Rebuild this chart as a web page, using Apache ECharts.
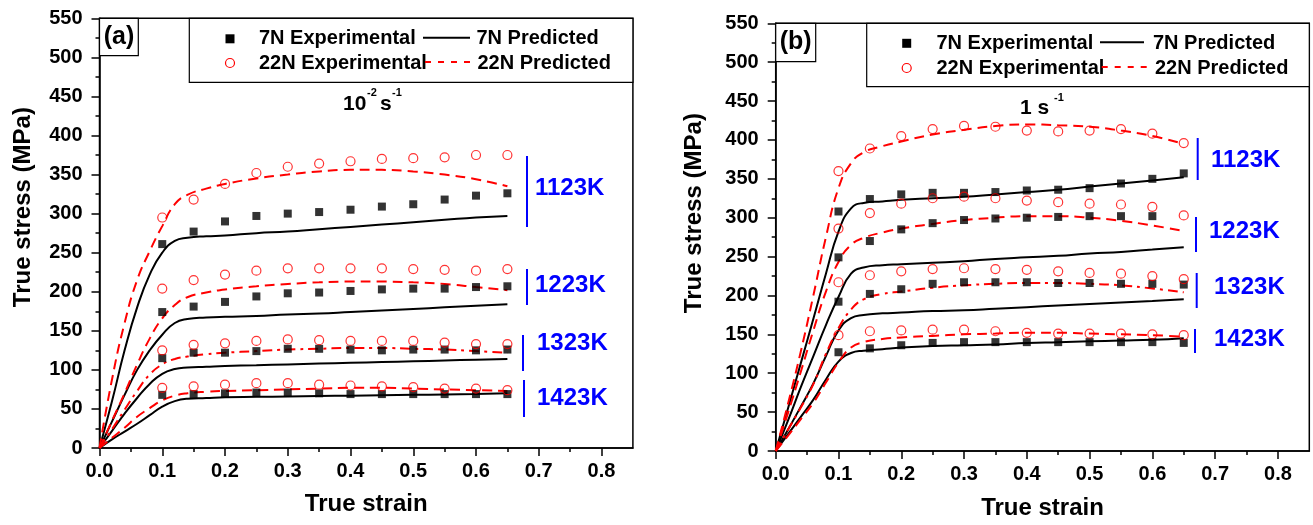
<!DOCTYPE html>
<html><head><meta charset="utf-8">
<script src="https://cdn.jsdelivr.net/npm/echarts@6/dist/echarts.min.js"></script>
<style>html,body{margin:0;padding:0;background:#fff}#c{width:1313px;height:525px}</style>
</head><body><div id="c"></div><script>
const FONT = '"Liberation Sans", Arial, Helvetica, sans-serif';

// ---- axes / ticks ----
const xTickValues = [0, 0.1, 0.2, 0.3, 0.4, 0.5, 0.6, 0.7, 0.8];
const xMinorTickValues = [0.05, 0.15, 0.25, 0.35, 0.45, 0.55, 0.65, 0.75];
const temperatures = ['1123K', '1223K', '1323K', '1423K'];
const rateA = ['10', '-2', 's', '-1'];
const rateB = ['1 s', '-1'];

// ---- strains ----
const expStrain = [0.1, 0.15, 0.2, 0.25, 0.3, 0.35, 0.4, 0.45, 0.5, 0.55, 0.6, 0.65];
const predStrain = [0, 0.02, 0.04, 0.06, 0.08, 0.1, 0.12, 0.14, 0.17, 0.2, 0.25, 0.3, 0.35, 0.4, 0.45, 0.5, 0.55, 0.6, 0.65];

// ---- panel (a) 10^-2 s^-1 : experimental ----
const a7NExp1123 = [261, 277, 290, 297, 300, 302, 305, 309, 312, 318, 323, 326];
const a22NExp1123 = [295, 318, 338, 352, 360, 364, 367, 370, 371, 372, 375, 375];
const a7NExp1223 = [174, 181, 187, 194, 198, 199, 201, 203, 204, 204, 206, 207];
const a22NExp1223 = [204, 215, 222, 227, 230, 230, 230, 230, 229, 228, 227, 229];
const a7NExp1323 = [115, 122, 122, 124, 127, 127, 126, 125, 126, 126, 125, 126];
const a22NExp1323 = [125, 132, 134, 137, 139, 138, 137, 137, 137, 135, 133, 133];
const a7NExp1423 = [68, 69, 70, 71, 71, 70, 69, 69, 69, 69, 69, 69];
const a22NExp1423 = [77, 79, 81, 83, 83, 81, 80, 79, 78, 76, 76, 74];
// ---- panel (a) predicted ----
const a7NPred1123 = [0, 60, 125, 180, 222, 250, 265, 269, 271, 272, 275, 277, 280, 283, 286, 289, 292, 295, 297];
const a22NPred1123 = [0, 88, 160, 215, 252, 284, 312, 324, 332, 338, 345, 350, 354, 356, 356, 354, 350, 344, 335];
const a7NPred1223 = [0, 34, 68, 100, 125, 145, 160, 165, 167, 168, 169, 171, 172, 174, 176, 178, 180, 182, 184];
const a22NPred1223 = [0, 35, 70, 107, 140, 166, 183, 193, 199, 203, 207, 210, 212, 213, 213, 212, 210, 206, 202];
const a7NPred1323 = [0, 22, 44, 64, 82, 95, 101, 103, 104, 105, 106, 107, 108, 109, 110, 111, 112, 113, 114];
const a22NPred1323 = [0, 24, 49, 73, 94, 107, 114, 117, 120, 122, 124, 126, 127, 128, 128, 127, 126, 124, 122];
const a7NPred1423 = [0, 11, 21, 31, 42, 53, 60, 63, 64, 65, 65.5, 66, 66.5, 67, 67.5, 68, 68.5, 69, 70];
const a22NPred1423 = [0, 13, 26, 40, 51, 61, 67, 70, 72, 73, 74, 75, 76, 77, 77, 76, 75, 74, 73];

// ---- panel (b) 1 s^-1 : experimental ----
const b7NExp1123 = [308, 324, 330, 332, 332, 333, 335, 336, 338, 344, 350, 357];
const b22NExp1123 = [360, 389, 405, 414, 418, 417, 412, 411, 412, 414, 408, 396];
const b7NExp1223 = [249, 270, 285, 293, 297, 299, 300, 301, 302, 302, 302, null];
const b22NExp1223 = [286, 306, 318, 325, 327, 325, 322, 320, 318, 317, 314, 303];
const b7NExp1323 = [192, 202, 208, 215, 217, 217, 217, 216, 216, 215, 215, 214];
const b22NExp1323 = [217, 226, 231, 234, 235, 234, 233, 231, 229, 228, 225, 221];
const b7NExp1423 = [127, 132, 136, 139, 140, 140, 140, 140, 140, 140, 140, 139];
const b22NExp1423 = [149, 154, 155, 156, 156, 154, 152, 151, 151, 151, 150, 149];
// ---- panel (b) predicted ----
const b7NPred1123 = [0, 56, 113, 170, 228, 282, 312, 319, 321, 323, 325, 327, 330, 333, 336, 340, 344, 348, 352];
const b22NPred1123 = [0, 62, 128, 200, 275, 338, 370, 384, 392, 398, 407, 413, 418, 420, 419, 417, 412, 405, 395];
const b7NPred1223 = [0, 40, 82, 122, 162, 198, 228, 236, 239, 240, 242, 244, 247, 249, 251, 254, 256, 259, 262];
const b22NPred1223 = [0, 50, 102, 155, 205, 243, 265, 274, 281, 286, 292, 297, 300, 302, 302, 300, 296, 290, 283];
const b7NPred1323 = [0, 28, 57, 87, 122, 155, 171, 175, 177, 178, 180, 181, 183, 185, 187, 189, 191, 193, 195];
const b22NPred1323 = [0, 28, 56, 86, 125, 158, 182, 195, 202, 205, 210, 213, 215, 216, 216, 215, 213, 209, 204];
const b7NPred1423 = [0, 22, 44, 66, 92, 115, 126, 129, 131, 133, 135, 136, 137, 139, 140, 141, 142, 143, 145];
const b22NPred1423 = [0, 20, 41, 62, 88, 114, 133, 140, 144, 146, 148, 150, 151, 152, 152, 151, 150, 149, 147];

const RED = '#ff0000', BLUE = '#0000ff', BLACK = '#000000';

function pairs(xs, ys) {
  return xs.map((x, i) => [x, ys[i]]).filter(p => p[1] !== null && p[1] !== undefined);
}
function expSeries(name, gi, vals, solid) {
  return {
    type: 'scatter', name, xAxisIndex: gi * 2, yAxisIndex: gi, data: pairs(expStrain, vals),
    symbol: solid ? 'rect' : 'circle', symbolSize: solid ? 8 : 9, z: 4, silent: true,
    itemStyle: solid ? { color: BLACK } : { color: 'rgba(0,0,0,0)', borderColor: RED, borderWidth: 1.2 }
  };
}
function predSeries(name, gi, vals, color, type) {
  return {
    type: 'line', name, xAxisIndex: gi * 2, yAxisIndex: gi, data: pairs(predStrain, vals),
    showSymbol: false, symbol: 'none', smooth: 0.5, z: 3, silent: true,
    lineStyle: { color, width: 2, type }
  };
}
const DASH = [10, 6], DASHDOT = [10, 5, 3, 5];

const series = [
  predSeries('7N Predicted', 0, a7NPred1123, BLACK, 'solid'),
  predSeries('7N Predicted', 0, a7NPred1223, BLACK, 'solid'),
  predSeries('7N Predicted', 0, a7NPred1323, BLACK, 'solid'),
  predSeries('7N Predicted', 0, a7NPred1423, BLACK, 'solid'),
  predSeries('22N Predicted', 0, a22NPred1123, RED, DASH),
  predSeries('22N Predicted', 0, a22NPred1223, RED, DASH),
  predSeries('22N Predicted', 0, a22NPred1323, RED, DASHDOT),
  predSeries('22N Predicted', 0, a22NPred1423, RED, DASH),
  expSeries('7N Experimental', 0, a7NExp1123, true),
  expSeries('7N Experimental', 0, a7NExp1223, true),
  expSeries('7N Experimental', 0, a7NExp1323, true),
  expSeries('7N Experimental', 0, a7NExp1423, true),
  expSeries('22N Experimental', 0, a22NExp1123, false),
  expSeries('22N Experimental', 0, a22NExp1223, false),
  expSeries('22N Experimental', 0, a22NExp1323, false),
  expSeries('22N Experimental', 0, a22NExp1423, false),

  predSeries('7N Predicted', 1, b7NPred1123, BLACK, 'solid'),
  predSeries('7N Predicted', 1, b7NPred1223, BLACK, 'solid'),
  predSeries('7N Predicted', 1, b7NPred1323, BLACK, 'solid'),
  predSeries('7N Predicted', 1, b7NPred1423, BLACK, 'solid'),
  predSeries('22N Predicted', 1, b22NPred1123, RED, DASH),
  predSeries('22N Predicted', 1, b22NPred1223, RED, DASH),
  predSeries('22N Predicted', 1, b22NPred1323, RED, DASHDOT),
  predSeries('22N Predicted', 1, b22NPred1423, RED, DASH),
  expSeries('7N Experimental', 1, b7NExp1123, true),
  expSeries('7N Experimental', 1, b7NExp1223, true),
  expSeries('7N Experimental', 1, b7NExp1323, true),
  expSeries('7N Experimental', 1, b7NExp1423, true),
  expSeries('22N Experimental', 1, b22NExp1123, false),
  expSeries('22N Experimental', 1, b22NExp1223, false),
  expSeries('22N Experimental', 1, b22NExp1323, false),
  expSeries('22N Experimental', 1, b22NExp1423, false)
];

const axisLineStyle = { color: BLACK, width: 1.5 };
function mainX(gi, gap) {
  return {
    type: 'value', gridIndex: gi, min: 0, max: 0.85, interval: 0.1, position: 'bottom',
    axisLine: { show: true, onZero: false, lineStyle: axisLineStyle },
    axisTick: { show: true, length: 8, inside: false, customValues: xTickValues, lineStyle: axisLineStyle },
    axisLabel: { show: true, customValues: xTickValues, formatter: v => v.toFixed(1), margin: 13,
      color: BLACK, fontSize: 20, fontWeight: 'bold', fontFamily: FONT },
    splitLine: { show: false },
    name: 'True strain', nameLocation: 'middle', nameGap: gap,
    nameTextStyle: { color: BLACK, fontSize: 24, fontWeight: 'bold', fontFamily: FONT }
  };
}
function minorX(gi) {
  return {
    type: 'value', gridIndex: gi, min: 0, max: 0.85, interval: 0.05, position: 'bottom',
    axisLine: { show: false, onZero: false },
    axisTick: { show: true, length: 4, inside: false, customValues: xMinorTickValues, lineStyle: axisLineStyle },
    axisLabel: { show: false }, splitLine: { show: false }
  };
}
function mainY(gi, gap, shift) {
  return {
    type: 'value', gridIndex: gi, min: 0, max: 550, interval: 50, position: 'left',
    axisLine: { show: true, onZero: false, lineStyle: axisLineStyle },
    axisTick: { show: true, length: 8, inside: false, lineStyle: axisLineStyle },
    minorTick: { show: true, splitNumber: 2, length: 4, lineStyle: axisLineStyle },
    axisLabel: { show: true, margin: 17, color: BLACK, fontSize: 20, fontWeight: 'bold', fontFamily: FONT },
    splitLine: { show: false }, minorSplitLine: { show: false },
    name: 'True stress (MPa)', nameLocation: 'middle', nameGap: gap,
    nameTextStyle: { color: BLACK, fontSize: 24, fontWeight: 'bold', fontFamily: FONT, padding: [0, 0, 0, shift] }
  };
}

// ---- annotations (pixel layout) ----
function txt(text, x, y, size, color, align) {
  return { type: 'text', z: 20, silent: true,
    style: { text, x, y, fill: color || BLACK, font: 'bold ' + size + 'px ' + FONT,
      textAlign: align || 'left', textVerticalAlign: 'middle' } };
}
function rect(x, y, w, h) {
  return { type: 'rect', z: 15, silent: true, shape: { x, y, width: w, height: h },
    style: { fill: '#fff', stroke: BLACK, lineWidth: 1.2 } };
}
function seg(x1, y1, x2, y2, color, width, dash) {
  return { type: 'line', z: 20, silent: true, shape: { x1, y1, x2, y2 },
    style: { stroke: color, lineWidth: width, lineDash: dash || null } };
}
function legendBlock(bx, by, bw, bh, sx, y1, y2, tx, l1, l2, p1x, p2x) {
  return [
    rect(bx, by, bw, bh),
    { type: 'rect', z: 20, silent: true, shape: { x: sx - 4.5, y: y1 - 4.5, width: 9, height: 9 }, style: { fill: BLACK } },
    txt('7N Experimental', tx, y1, 20),
    seg(l1[0], y1 - 1, l1[1], y1 - 1, BLACK, 2),
    txt('7N Predicted', p1x, y1, 20),
    { type: 'circle', z: 20, silent: true, shape: { cx: sx, cy: y2, r: 4.5 }, style: { fill: 'none', stroke: RED, lineWidth: 1.2 } },
    txt('22N Experimental', tx, y2, 20),
    seg(l2[0], y2 - 1, l2[1], y2 - 1, RED, 2, [6, 7]),
    txt('22N Predicted', p2x, y2, 20)
  ];
}

const graphic = [].concat(
  // panel a
  [rect(99.5, 18.3, 38.8, 37.4), txt('(a)', 119, 37, 25, BLACK, 'center')],
  legendBlock(189.3, 18.3, 443.6, 64, 230, 38.8, 63, 259, [423, 470], [425, 473], 476.5, 477.5),
  [txt(rateA[0], 343, 104, 21), txt(rateA[1], 367, 93, 11), txt(rateA[2], 380, 104, 21), txt(rateA[3], 392, 93, 11)],
  [seg(527, 156, 527, 227, BLUE, 2), seg(527, 269, 527, 305, BLUE, 2), seg(523, 335, 523, 371, BLUE, 2), seg(524, 380, 524, 417, BLUE, 2)],
  [txt(temperatures[0], 535, 188, 24, BLUE), txt(temperatures[1], 535, 285, 24, BLUE),
   txt(temperatures[2], 537, 343, 24, BLUE), txt(temperatures[3], 537, 398, 24, BLUE)],
  // panel b
  [rect(775.7, 23.3, 40, 38.4), txt('(b)', 795.7, 42, 25, BLACK, 'center')],
  legendBlock(866.7, 23.3, 442.6, 63.4, 906.7, 43.3, 68, 936.5, [1100, 1144], [1101.7, 1149.3], 1153, 1155),
  [txt(rateB[0], 1020, 108.5, 21), txt(rateB[1], 1054, 98, 11)],
  [seg(1197.7, 138, 1197.7, 180, BLUE, 2), seg(1196, 217, 1196, 252, BLUE, 2), seg(1196.7, 273, 1196.7, 308, BLUE, 2), seg(1195, 329, 1195, 353, BLUE, 2)],
  [txt(temperatures[0], 1211, 160, 24, BLUE), txt(temperatures[1], 1209, 231, 24, BLUE),
   txt(temperatures[2], 1214, 287, 24, BLUE), txt(temperatures[3], 1214, 339, 24, BLUE)]
);

const option = {
  animation: false,
  backgroundColor: '#fff',
  grid: [
    { left: 99.5, top: 18.3, width: 533.4, height: 429.7, show: true, borderColor: BLACK, borderWidth: 1.5, backgroundColor: 'transparent' },
    { left: 775.7, top: 23.3, width: 533.6, height: 429, show: true, borderColor: BLACK, borderWidth: 1.5, backgroundColor: 'transparent' }
  ],
  xAxis: [mainX(0, 44), minorX(0), mainX(1, 45), minorX(1)],
  yAxis: [mainY(0, 64, 52), mainY(1, 69, 48)],
  series,
  graphic
};

const chart = echarts.init(document.getElementById('c'), null, { renderer: 'canvas' });
chart.setOption(option);
</script></body></html>
